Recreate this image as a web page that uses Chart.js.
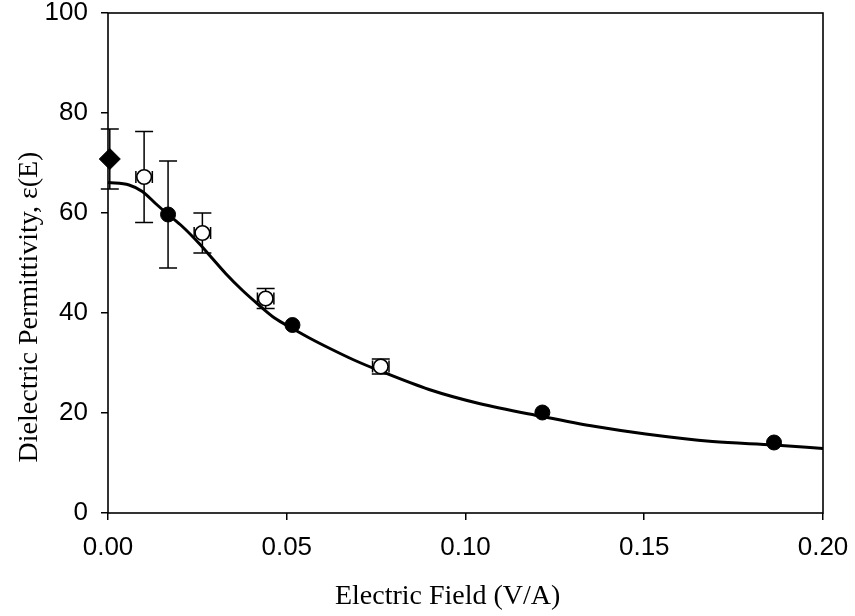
<!DOCTYPE html>
<html>
<head>
<meta charset="utf-8">
<script src="https://cdn.jsdelivr.net/npm/chart.js@4/dist/chart.umd.min.js"></script>
<style>
html,body{margin:0;padding:0;background:#fff;}
#wrap{width:855px;height:616px;}
</style>
</head>
<body>
<div id="wrap"><canvas id="c" width="855" height="616"></canvas></div>
<script>
// Data
const diamondX = [0.0005];
const diamondY = [70.8];
const diamondErrY = [6.0];

const filledX = [0.0168, 0.0516, 0.1215, 0.1863];
const filledY = [59.7, 37.6, 20.1, 14.1];
const filledErrY = [10.7, 0, 0, 0];

const openX = [0.0101, 0.0264, 0.0441, 0.0763];
const openY = [67.2, 56.0, 42.9, 29.3];
const openErrY = [9.1, 4.0, 2.0, 1.5];
const openErrX = [0.0023, 0.0023, 0.0023, 0.0023];

const fitX = [0.0, 0.0059, 0.0096, 0.0133, 0.0168, 0.0208, 0.0255, 0.0292, 0.0329, 0.0375, 0.0422, 0.0466, 0.0516, 0.0566, 0.0618, 0.0688, 0.0758, 0.0898, 0.1038, 0.1215, 0.1364, 0.1504, 0.1691, 0.1863, 0.2];
const fitY = [66.1, 65.6, 64.3, 61.9, 59.7, 57.3, 53.9, 50.9, 47.9, 44.6, 41.6, 39.0, 36.9, 34.9, 33.0, 30.6, 28.5, 24.7, 21.9, 19.3, 17.3, 15.8, 14.3, 13.6, 12.9];

const xTicks = [0, 0.05, 0.10, 0.15, 0.20];
const yTicks = [0, 20, 40, 60, 80, 100];

const xTitle = 'Electric Field (V/A)';
const yTitle = 'Dielectric Permittivity, ε(E)';

const toPts = (xs, ys) => xs.map((x, i) => ({x: x, y: ys[i]}));

const errorBars = {
  id: 'errorBars',
  beforeDatasetsDraw(chart) {
    const ctx = chart.ctx, xs = chart.scales.x, ys = chart.scales.y;
    ctx.save();
    ctx.strokeStyle = '#000';
    ctx.lineWidth = 1.5;
    chart.data.datasets.forEach((ds) => {
      if (!ds.errY) return;
      ds.data.forEach((p, i) => {
        const px = xs.getPixelForValue(p.x);
        const ey = ds.errY[i];
        if (ey > 0) {
          const top = ys.getPixelForValue(p.y + ey);
          const bot = ys.getPixelForValue(p.y - ey);
          ctx.beginPath();
          ctx.moveTo(px, top); ctx.lineTo(px, bot);
          ctx.moveTo(px - 9, top); ctx.lineTo(px + 9, top);
          ctx.moveTo(px - 9, bot); ctx.lineTo(px + 9, bot);
          ctx.stroke();
        }
        if (ds.errX && ds.errX[i] > 0) {
          const py = ys.getPixelForValue(p.y);
          const l = xs.getPixelForValue(p.x - ds.errX[i]);
          const r = xs.getPixelForValue(p.x + ds.errX[i]);
          ctx.beginPath();
          ctx.moveTo(l, py); ctx.lineTo(r, py);
          ctx.moveTo(l, py - 6); ctx.lineTo(l, py + 6);
          ctx.moveTo(r, py - 6); ctx.lineTo(r, py + 6);
          ctx.stroke();
        }
      });
    });
    ctx.restore();
  }
};

const frameAndTitles = {
  id: 'frameAndTitles',
  afterDraw(chart) {
    const a = chart.chartArea, ctx = chart.ctx;
    ctx.save();
    ctx.strokeStyle = '#000';
    ctx.lineWidth = 1.6;
    ctx.strokeRect(a.left, a.top, a.right - a.left, a.bottom - a.top);
    ctx.fillStyle = '#000';
    ctx.font = '28px "Liberation Serif", "Times New Roman", serif';
    ctx.textAlign = 'center';
    ctx.textBaseline = 'middle';
    ctx.fillText(xTitle, a.left + (a.right - a.left) * 0.475, a.bottom + 84);
    ctx.translate(a.left - 78, a.top + (a.bottom - a.top) * 0.588);
    ctx.rotate(-Math.PI / 2);
    ctx.fillText(yTitle, 0, 0);
    ctx.restore();
  }
};

new Chart(document.getElementById('c'), {
  type: 'scatter',
  data: {
    datasets: [
      {
        label: 'fit', type: 'line', data: toPts(fitX, fitY),
        borderColor: '#000', borderWidth: 3, pointRadius: 0,
        cubicInterpolationMode: 'monotone', fill: false, order: 5
      },
      {
        label: 'open', data: toPts(openX, openY), errY: openErrY, errX: openErrX,
        pointStyle: 'circle', pointRadius: 7.3, backgroundColor: '#fff',
        borderColor: '#000', borderWidth: 1.6, order: 1
      },
      {
        label: 'filled', data: toPts(filledX, filledY), errY: filledErrY,
        pointStyle: 'circle', pointRadius: 7.5, backgroundColor: '#000',
        borderColor: '#000', borderWidth: 1, order: 2
      },
      {
        label: 'diamond', data: toPts(diamondX, diamondY), errY: diamondErrY,
        pointStyle: 'rectRot', pointRadius: 10.5, backgroundColor: '#000',
        borderColor: '#000', borderWidth: 1, order: 3
      }
    ]
  },
  options: {
    responsive: false,
    animation: false,
    clip: false,
    layout: { padding: { top: 13, right: 32, left: 0, bottom: 0 } },
    plugins: { legend: { display: false }, tooltip: { enabled: false } },
    scales: {
      x: {
        type: 'linear', min: 0, max: 0.2,
        afterBuildTicks: (s) => { s.ticks = xTicks.map(v => ({value: v})); },
        afterFit: (s) => { s.height = 103; s.paddingLeft = 0; s.paddingRight = 0; },
        border: { display: false },
        grid: { drawOnChartArea: false, tickLength: 7, color: '#000', lineWidth: 1.5 },
        ticks: {
          color: '#000', padding: 12, maxRotation: 0,
          font: { family: 'Liberation Sans, Arial, sans-serif', size: 26 },
          callback: (v) => Number(v).toFixed(2)
        }
      },
      y: {
        type: 'linear', min: 0, max: 100,
        afterBuildTicks: (s) => { s.ticks = yTicks.map(v => ({value: v})); },
        afterFit: (s) => { s.width = 108; s.paddingTop = 0; s.paddingBottom = 0; },
        border: { display: false },
        grid: { drawOnChartArea: false, tickLength: 7, color: '#000', lineWidth: 1.5 },
        ticks: {
          color: '#000', padding: 13,
          font: { family: 'Liberation Sans, Arial, sans-serif', size: 26 }
        }
      }
    }
  },
  plugins: [errorBars, frameAndTitles]
});
</script>
</body>
</html>
